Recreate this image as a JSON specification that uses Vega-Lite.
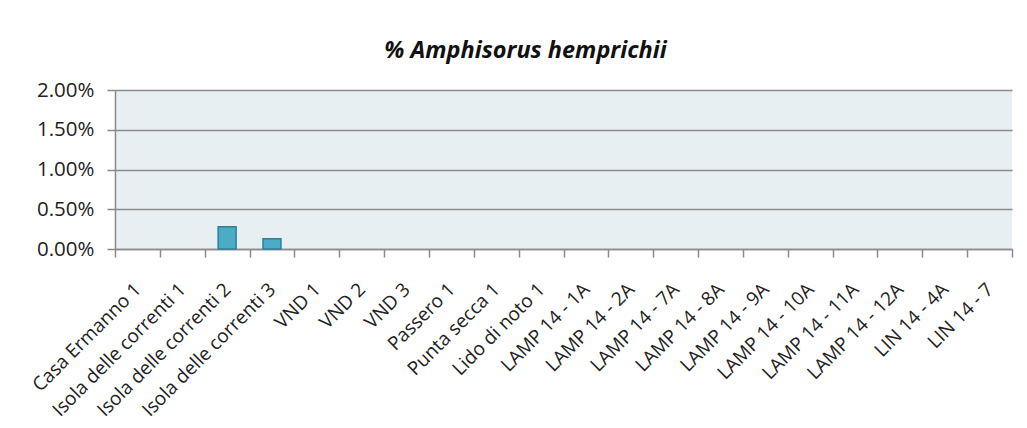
{
  "$schema": "https://vega.github.io/schema/vega-lite/v6.json",
  "autosize": {"type": "none"},
  "padding": {"left": 115, "top": 90, "right": 15, "bottom": 179},
  "width": 897,
  "height": 159,
  "background": "white",
  "title": {
    "text": "% Amphisorus hemprichii",
    "font": "Open Sans",
    "fontSize": 23.5,
    "fontStyle": "italic",
    "fontWeight": "bold",
    "color": "#111111",
    "anchor": "middle",
    "frame": "group",
    "dx": -38,
    "offset": 18
  },
  "data": {
    "values": [
      {"site": "Casa Ermanno 1", "value": 0},
      {"site": "Isola delle correnti 1", "value": 0},
      {"site": "Isola delle correnti 2", "value": 0.0028},
      {"site": "Isola delle correnti 3", "value": 0.0013},
      {"site": "VND 1", "value": 0},
      {"site": "VND 2", "value": 0},
      {"site": "VND 3", "value": 0},
      {"site": "Passero 1", "value": 0},
      {"site": "Punta secca 1", "value": 0},
      {"site": "Lido di noto 1", "value": 0},
      {"site": "LAMP 14 - 1A", "value": 0},
      {"site": "LAMP 14 - 2A", "value": 0},
      {"site": "LAMP 14 - 7A", "value": 0},
      {"site": "LAMP 14 - 8A", "value": 0},
      {"site": "LAMP 14 - 9A", "value": 0},
      {"site": "LAMP 14 - 10A", "value": 0},
      {"site": "LAMP 14 - 11A", "value": 0},
      {"site": "LAMP 14 - 12A", "value": 0},
      {"site": "LIN 14 - 4A", "value": 0},
      {"site": "LIN 14 - 7", "value": 0}
    ]
  },
  "mark": {"type": "bar", "fill": "#4bacc6", "stroke": "#2f7f96", "strokeWidth": 1.5, "width": {"band": 0.4}},
  "encoding": {
    "x": {
      "field": "site",
      "type": "nominal",
      "sort": null,
      "scale": {"paddingInner": 0, "paddingOuter": 0},
      "axis": {
        "title": null,
        "labelAngle": -45,
        "labelAlign": "right",
        "labelBaseline": "middle",
        "labelPadding": 29,
        "labelLimit": 0,
        "labelOverlap": false,
        "labelFontSize": 19,
        "tickBand": "extent",
        "tickSize": 8,
        "grid": false
      }
    },
    "y": {
      "field": "value",
      "type": "quantitative",
      "scale": {"domain": [0, 0.02], "nice": false},
      "axis": {
        "title": null,
        "values": [0, 0.005, 0.01, 0.015, 0.02],
        "format": ".2%",
        "labelFontSize": 20.5,
        "labelPadding": 13,
        "tickSize": 8,
        "grid": true
      }
    },
    "strokeOpacity": {"condition": {"test": "datum.value > 0", "value": 1}, "value": 0}
  },
  "config": {
    "view": {"fill": "#e8eff3", "stroke": null},
    "axis": {
      "labelFont": "Open Sans",
      "labelColor": "#222222",
      "domainColor": "#8a8a8a",
      "domainWidth": 1.5,
      "tickColor": "#8a8a8a",
      "tickWidth": 1.5,
      "gridColor": "#8a8a8a",
      "gridWidth": 1.5
    }
  }
}
